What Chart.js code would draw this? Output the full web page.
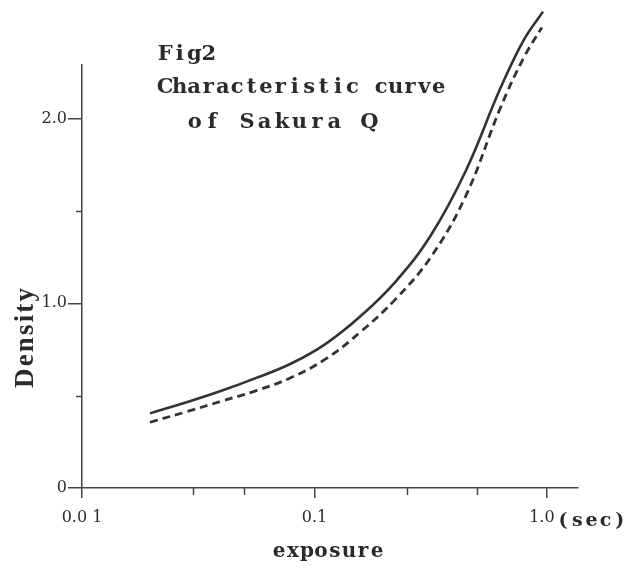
<!DOCTYPE html>
<html>
<head>
<meta charset="utf-8">
<script src="https://cdn.jsdelivr.net/npm/chart.js@4/dist/chart.umd.min.js"></script>
<style>
  html, body { margin: 0; padding: 0; background: #ffffff; }
  #wrap { width: 630px; height: 572px; }
</style>
</head>
<body>
<div id="wrap"><canvas id="c" width="630" height="572"></canvas></div>
<script>
// ---- data ----
const xTicks = [0.01, 0.1, 1.0];
const xTickLabels = ['0.0 1', '0.1', '1.0  '];
const xMinorTicks = [0.03, 0.05, 0.25, 0.5];
const yTicks = [0, 1, 2];
const yTickLabels = ['0', '1.0', '2.0'];
const yMinorTicks = [0.5, 1.5];

const solidExposure = [0.0196, 0.0282, 0.0398, 0.0562, 0.0794, 0.1122, 0.1585, 0.2239, 0.3162, 0.4467, 0.6310, 0.7943, 0.9616];
const solidDensity  = [0.404, 0.464, 0.526, 0.596, 0.674, 0.782, 0.932, 1.119, 1.367, 1.715, 2.165, 2.425, 2.579];

const dashedExposure = [0.0196, 0.0282, 0.0398, 0.0562, 0.0794, 0.1122, 0.1585, 0.2239, 0.3162, 0.4467, 0.6310, 0.7943, 0.9506];
const dashedDensity  = [0.356, 0.413, 0.470, 0.527, 0.598, 0.700, 0.847, 1.024, 1.249, 1.579, 2.059, 2.329, 2.493];

const figTitle = ['Fig2', 'Characteristic curve', 'of Sakura Q'];
const xAxisTitle = 'exposure';
const yAxisTitle = 'Density';
const xUnit = '(sec)';

const ink = '#2b2b2b';
const tickFont = '"DejaVu Serif", "Liberation Serif", serif';
const wideSerif = '"DejaVu Serif", "Liberation Serif", serif';
const boldSerif = '"Liberation Serif", "DejaVu Serif", serif';

function pairs(xs, ys) { return xs.map((x, i) => ({ x: x, y: ys[i] })); }

// typewriter look: each character centred in an equal cell
function drawCells(ctx, text, x0, x1, y) {
  const n = text.length;
  const cell = (x1 - x0) / n;
  ctx.textAlign = 'center';
  for (let i = 0; i < n; i++) {
    ctx.fillText(text[i], x0 + cell * (i + 0.5), y);
  }
}
// natural glyph widths, extra spacing spread so the text spans x0..x1
function drawFit(ctx, text, x0, x1, y) {
  const ws = [...text].map(ch => ctx.measureText(ch).width);
  const total = ws.reduce((a, b) => a + b, 0);
  const gap = (x1 - x0 - total) / (text.length - 1);
  ctx.textAlign = 'left';
  let x = x0;
  for (let i = 0; i < text.length; i++) {
    ctx.fillText(text[i], x, y);
    x += ws[i] + gap;
  }
}

const decor = {
  id: 'decor',
  afterDraw(chart) {
    const ctx = chart.ctx;
    const xs = chart.scales.x, ys = chart.scales.y;
    ctx.save();
    // minor ticks
    ctx.strokeStyle = '#444';
    ctx.lineWidth = 1.5;
    xMinorTicks.forEach(v => {
      const px = Math.round(xs.getPixelForValue(v)) + 0.5;
      ctx.beginPath(); ctx.moveTo(px, ys.bottom); ctx.lineTo(px, ys.bottom + 7); ctx.stroke();
    });
    yMinorTicks.forEach(v => {
      const py = Math.round(ys.getPixelForValue(v)) + 0.5;
      ctx.beginPath(); ctx.moveTo(xs.left - 6, py); ctx.lineTo(xs.left, py); ctx.stroke();
    });

    ctx.fillStyle = ink;
    ctx.textBaseline = 'alphabetic';
    // figure caption
    ctx.font = 'bold 21px ' + wideSerif;
    drawCells(ctx, figTitle[0], 158, 216, 60);
    drawCells(ctx, figTitle[1], 158, 446, 93);
    drawCells(ctx, figTitle[2], 186, 378, 128);

    // x axis title
    ctx.font = 'bold 20px ' + wideSerif;
    drawCells(ctx, xAxisTitle, 272, 384, 557);

    // unit after 1.0
    ctx.font = 'bold 19px ' + wideSerif;
    const p1 = xs.getPixelForValue(1.0);
    drawCells(ctx, xUnit, p1 + 9, p1 + 80, 526);

    // y axis title (rotated)
    ctx.save();
    ctx.translate(33, 338);
    ctx.rotate(-Math.PI / 2);
    ctx.font = 'bold 27px ' + boldSerif;
    drawFit(ctx, yAxisTitle, -50, 50, 0);
    ctx.restore();

    ctx.restore();
  }
};

new Chart(document.getElementById('c'), {
  type: 'line',
  data: {
    datasets: [
      {
        label: 'solid',
        data: pairs(solidExposure, solidDensity),
        borderColor: '#333333',
        borderWidth: 2.6,
        pointRadius: 0,
        tension: 0.4,
        fill: false,
        clip: false
      },
      {
        label: 'dashed',
        data: pairs(dashedExposure, dashedDensity),
        borderColor: '#333333',
        borderWidth: 2.8,
        borderDash: [8, 5],
        pointRadius: 0,
        tension: 0.4,
        fill: false,
        clip: false
      }
    ]
  },
  options: {
    responsive: false,
    animation: false,
    devicePixelRatio: 1,
    layout: { padding: { top: 65, right: 52, left: 0, bottom: 0 } },
    plugins: { legend: { display: false }, tooltip: { enabled: false }, title: { display: false } },
    scales: {
      x: {
        type: 'logarithmic',
        min: 0.01,
        max: 1.36,
        afterBuildTicks: s => { s.ticks = xTicks.map(v => ({ value: v })); },
        afterFit: s => { s.height = 84; },
        ticks: {
          autoSkip: false,
          maxRotation: 0,
          minRotation: 0,
          padding: 10,
          color: ink,
          font: { family: tickFont, size: 16 },
          callback: (v) => { const i = xTicks.indexOf(v); return i >= 0 ? xTickLabels[i] : ''; }
        },
        grid: { drawOnChartArea: false, drawTicks: true, tickLength: 10, color: '#444', lineWidth: 1.5 },
        border: { display: true, color: '#444', width: 1.5 }
      },
      y: {
        type: 'linear',
        min: 0,
        max: 2.29,
        afterBuildTicks: s => { s.ticks = yTicks.map(v => ({ value: v })); },
        afterFit: s => { s.width = 82; },
        ticks: {
          padding: 1,
          color: ink,
          font: { family: tickFont, size: 16 },
          callback: (v) => { const i = yTicks.indexOf(v); return i >= 0 ? yTickLabels[i] : ''; }
        },
        grid: { drawOnChartArea: false, drawTicks: true, tickLength: 14, color: '#444', lineWidth: 1.5 },
        border: { display: true, color: '#444', width: 1.5 }
      }
    }
  },
  plugins: [decor]
});
</script>
</body>
</html>
